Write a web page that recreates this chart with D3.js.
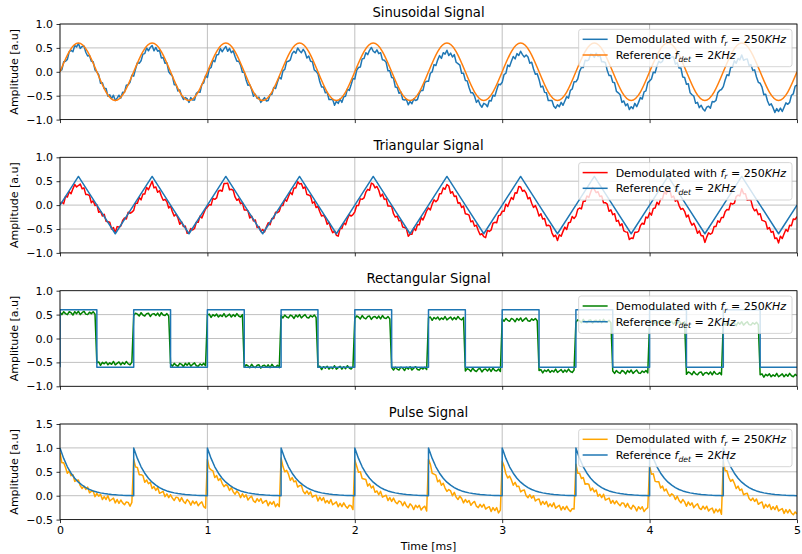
<!DOCTYPE html>
<html>
<head>
<meta charset="utf-8">
<script src="https://cdn.jsdelivr.net/npm/d3@7"></script>
<style>
  body { margin: 0; background: #fff; }
  svg { display: block; }
  text { font-family: "DejaVu Sans", sans-serif; fill: #000; }
</style>
</head>
<body>
<svg id="chart" width="802" height="554"></svg>
<script>
// ---- sampling ----
const STEP = 0.0125;           // ms between demodulated samples (40 per 0.5 ms period)
const timeTicks = [0, 1, 2, 3, 4, 5];
const ampTicks = [-1.0, -0.5, 0.0, 0.5, 1.0];
const pulseAmpTicks = [-0.5, 0.0, 0.5, 1.0, 1.5];
const titles = ["Sinusoidal Signal", "Triangular Signal", "Rectangular Signal", "Pulse Signal"];

// ---- sinusoidal (one row per 0.5 ms period) ----
const sineDemod = [
  0.02, 0.04, 0.21, 0.22, 0.26, 0.42, 0.45, 0.42, 0.55, 0.52, 0.59, 0.49, 0.53, 0.54, 0.41, 0.33, 0.34, 0.22, 0.21, 0.04, 0.00, -0.06, -0.24, -0.23, -0.35, -0.35, -0.51, -0.48, -0.56, -0.49, -0.60, -0.55, -0.49, -0.55, -0.43, -0.43, -0.28, -0.27, -0.22, -0.07,
  -0.09, 0.06, 0.19, 0.18, 0.23, 0.37, 0.38, 0.50, 0.44, 0.51, 0.55, 0.44, 0.51, 0.43, 0.45, 0.29, 0.30, 0.18, 0.19, 0.00, -0.05, -0.09, -0.27, -0.27, -0.40, -0.38, -0.50, -0.58, -0.54, -0.56, -0.64, -0.54, -0.59, -0.59, -0.45, -0.42, -0.43, -0.26, -0.23, -0.08,
  -0.12, 0.06, 0.09, 0.24, 0.21, 0.35, 0.36, 0.49, 0.42, 0.48, 0.53, 0.43, 0.49, 0.40, 0.44, 0.32, 0.22, 0.22, 0.14, -0.01, -0.01, -0.17, -0.28, -0.27, -0.37, -0.51, -0.47, -0.56, -0.53, -0.64, -0.59, -0.54, -0.61, -0.60, -0.48, -0.47, -0.33, -0.35, -0.22, -0.11,
  -0.15, 0.02, 0.05, 0.21, 0.22, 0.25, 0.38, 0.43, 0.39, 0.50, 0.44, 0.40, 0.47, 0.41, 0.29, 0.33, 0.22, 0.21, 0.04, 0.01, -0.04, -0.21, -0.32, -0.32, -0.44, -0.43, -0.58, -0.58, -0.58, -0.70, -0.62, -0.66, -0.57, -0.64, -0.52, -0.51, -0.36, -0.39, -0.27, -0.14,
  -0.15, 0.03, 0.09, 0.10, 0.27, 0.28, 0.40, 0.36, 0.45, 0.51, 0.43, 0.40, 0.46, 0.38, 0.40, 0.25, 0.24, 0.20, 0.02, 0.02, -0.12, -0.13, -0.32, -0.33, -0.45, -0.42, -0.58, -0.59, -0.58, -0.69, -0.62, -0.67, -0.57, -0.60, -0.58, -0.45, -0.39, -0.39, -0.22, -0.20,
  -0.20, -0.03, 0.00, 0.15, 0.13, 0.25, 0.34, 0.28, 0.40, 0.37, 0.45, 0.34, 0.39, 0.31, 0.36, 0.20, 0.17, 0.14, -0.03, -0.03, -0.18, -0.19, -0.33, -0.44, -0.44, -0.51, -0.64, -0.59, -0.69, -0.74, -0.66, -0.68, -0.73, -0.60, -0.61, -0.49, -0.51, -0.38, -0.26, -0.27,
  -0.22, -0.06, -0.03, 0.14, 0.11, 0.22, 0.32, 0.27, 0.38, 0.34, 0.43, 0.36, 0.31, 0.35, 0.31, 0.18, 0.20, 0.06, -0.05, -0.04, -0.16, -0.32, -0.30, -0.43, -0.44, -0.60, -0.60, -0.60, -0.72, -0.76, -0.69, -0.73, -0.64, -0.70, -0.61, -0.52, -0.55, -0.39, -0.36, -0.21,
  -0.21, -0.15, 0.01, 0.09, 0.09, 0.24, 0.23, 0.25, 0.37, 0.36, 0.30, 0.39, 0.32, 0.35, 0.21, 0.21, 0.19, 0.03, -0.08, -0.08, -0.22, -0.23, -0.41, -0.44, -0.48, -0.64, -0.61, -0.71, -0.67, -0.79, -0.73, -0.77, -0.66, -0.73, -0.64, -0.54, -0.57, -0.42, -0.40, -0.23,
  -0.19, -0.15, -0.01, -0.02, 0.12, 0.22, 0.19, 0.22, 0.33, 0.30, 0.38, 0.28, 0.31, 0.31, 0.16, 0.19, 0.08, 0.08, -0.11, -0.12, -0.26, -0.25, -0.44, -0.48, -0.51, -0.66, -0.64, -0.75, -0.70, -0.78, -0.82, -0.74, -0.72, -0.76, -0.62, -0.63, -0.60, -0.44, -0.39, -0.37,
  -0.31, -0.17, -0.06, -0.08, 0.09, 0.10, 0.23, 0.18, 0.28, 0.25, 0.35, 0.24, 0.26, 0.27, 0.13, 0.15, 0.03, 0.04, -0.11, -0.22, -0.24, -0.32, -0.48, -0.47, -0.61, -0.70, -0.67, -0.75, -0.85, -0.77, -0.83, -0.76, -0.83, -0.74, -0.65, -0.68, -0.64, -0.49, -0.46, -0.30,
  -0.28
];
const SINE_REF_STEP = 0.0625;
const sineRef = [
  0, 0.424, 0.6, 0.424, 0, -0.424, -0.6, -0.424,
  0, 0.424, 0.6, 0.424, 0, -0.424, -0.6, -0.424,
  0, 0.424, 0.6, 0.424, 0, -0.424, -0.6, -0.424,
  0, 0.424, 0.6, 0.424, 0, -0.424, -0.6, -0.424,
  0, 0.424, 0.6, 0.424, 0, -0.424, -0.6, -0.424,
  0, 0.424, 0.6, 0.424, 0, -0.424, -0.6, -0.424,
  0, 0.424, 0.6, 0.424, 0, -0.424, -0.6, -0.424,
  0, 0.424, 0.6, 0.424, 0, -0.424, -0.6, -0.424,
  0, 0.424, 0.6, 0.424, 0, -0.424, -0.6, -0.424,
  0, 0.424, 0.6, 0.424, 0, -0.424, -0.6, -0.424,
  0
];

// ---- triangular ----
const triDemod = [
  0.03, 0.06, 0.03, 0.18, 0.17, 0.28, 0.24, 0.34, 0.43, 0.38, 0.41, 0.44, 0.34, 0.36, 0.22, 0.22, 0.20, 0.05, 0.09, -0.01, 0.01, -0.15, -0.13, -0.23, -0.19, -0.34, -0.35, -0.36, -0.50, -0.47, -0.58, -0.45, -0.46, -0.44, -0.32, -0.27, -0.29, -0.15, -0.17, -0.15,
  -0.11, 0.04, 0.04, 0.16, 0.11, 0.23, 0.23, 0.37, 0.32, 0.41, 0.50, 0.36, 0.38, 0.27, 0.30, 0.19, 0.10, 0.12, 0.07, -0.06, -0.02, -0.14, -0.23, -0.19, -0.27, -0.40, -0.35, -0.45, -0.44, -0.59, -0.58, -0.49, -0.52, -0.49, -0.36, -0.36, -0.23, -0.27, -0.17, -0.08,
  -0.04, 0.01, 0.00, 0.14, 0.12, 0.15, 0.29, 0.31, 0.29, 0.45, 0.45, 0.46, 0.32, 0.33, 0.31, 0.17, 0.10, 0.13, 0.03, 0.05, -0.10, -0.10, -0.12, -0.27, -0.23, -0.33, -0.31, -0.47, -0.45, -0.55, -0.51, -0.56, -0.46, -0.37, -0.41, -0.28, -0.28, -0.15, -0.16, -0.13,
  -0.01, -0.01, 0.12, 0.08, 0.18, 0.27, 0.22, 0.36, 0.36, 0.49, 0.44, 0.45, 0.35, 0.38, 0.22, 0.21, 0.19, 0.04, 0.07, -0.05, -0.03, -0.14, -0.23, -0.21, -0.27, -0.40, -0.36, -0.49, -0.58, -0.54, -0.63, -0.65, -0.49, -0.49, -0.37, -0.41, -0.29, -0.20, -0.23, -0.20,
  -0.14, -0.01, -0.01, 0.13, 0.12, 0.15, 0.27, 0.33, 0.31, 0.46, 0.44, 0.36, 0.39, 0.31, 0.18, 0.23, 0.12, 0.13, -0.02, -0.02, -0.03, -0.18, -0.25, -0.23, -0.33, -0.32, -0.46, -0.47, -0.49, -0.65, -0.61, -0.61, -0.48, -0.53, -0.41, -0.41, -0.26, -0.31, -0.22, -0.12,
  -0.06, -0.10, 0.02, 0.11, 0.07, 0.11, 0.24, 0.24, 0.36, 0.33, 0.43, 0.40, 0.25, 0.28, 0.18, 0.19, 0.04, 0.05, -0.05, -0.02, -0.18, -0.19, -0.21, -0.35, -0.33, -0.44, -0.42, -0.53, -0.62, -0.60, -0.66, -0.68, -0.53, -0.55, -0.52, -0.38, -0.36, -0.37, -0.22, -0.21,
  -0.13, -0.13, 0.02, -0.03, 0.07, 0.16, 0.12, 0.26, 0.25, 0.39, 0.38, 0.29, 0.31, 0.25, 0.13, 0.16, 0.04, -0.05, -0.01, -0.10, -0.23, -0.18, -0.29, -0.28, -0.43, -0.42, -0.44, -0.58, -0.66, -0.63, -0.74, -0.62, -0.65, -0.55, -0.46, -0.51, -0.37, -0.36, -0.24, -0.28,
  -0.23, -0.09, -0.06, -0.08, 0.08, 0.08, 0.19, 0.16, 0.27, 0.37, 0.33, 0.26, 0.28, 0.18, 0.19, 0.05, 0.05, 0.02, -0.13, -0.10, -0.20, -0.18, -0.34, -0.32, -0.43, -0.39, -0.54, -0.56, -0.57, -0.72, -0.69, -0.70, -0.57, -0.57, -0.55, -0.43, -0.38, -0.40, -0.25, -0.27,
  -0.16, -0.21, -0.07, -0.06, 0.06, 0.01, 0.13, 0.13, 0.28, 0.23, 0.32, 0.31, 0.16, 0.19, 0.08, 0.11, -0.01, -0.09, -0.07, -0.13, -0.25, -0.21, -0.34, -0.42, -0.38, -0.47, -0.59, -0.54, -0.64, -0.64, -0.78, -0.67, -0.58, -0.61, -0.58, -0.45, -0.45, -0.33, -0.36, -0.26,
  -0.26, -0.14, -0.09, -0.10, 0.04, 0.02, 0.04, 0.18, 0.21, 0.19, 0.34, 0.24, 0.24, 0.10, 0.11, 0.10, -0.05, -0.12, -0.09, -0.20, -0.18, -0.32, -0.33, -0.35, -0.50, -0.47, -0.57, -0.55, -0.70, -0.69, -0.79, -0.65, -0.70, -0.60, -0.51, -0.55, -0.42, -0.43, -0.29, -0.30,
  -0.24
];
const TRI_REF_STEP = 0.125;
const triRef = [
  0, 0.6, 0, -0.6, 0, 0.6, 0, -0.6, 0, 0.6, 0, -0.6, 0, 0.6, 0, -0.6, 0, 0.6, 0, -0.6,
  0, 0.6, 0, -0.6, 0, 0.6, 0, -0.6, 0, 0.6, 0, -0.6, 0, 0.6, 0, -0.6, 0, 0.6, 0, -0.6,
  0
];

// ---- rectangular (one row per 0.25 ms half period) ----
const rectDemod = [
  0.55, 0.50, 0.56, 0.52, 0.50, 0.56, 0.54, 0.49, 0.56, 0.52, 0.57, 0.50, 0.54, 0.57, 0.51, 0.50, 0.55, 0.52, 0.56, 0.51,
  -0.51, -0.49, -0.56, -0.50, -0.53, -0.49, -0.55, -0.51, -0.54, -0.48, -0.55, -0.52, -0.49, -0.55, -0.50, -0.54, -0.48, -0.53, -0.55, -0.50,
  0.48, 0.53, 0.51, 0.47, 0.54, 0.49, 0.47, 0.52, 0.53, 0.46, 0.51, 0.52, 0.48, 0.53, 0.47, 0.54, 0.49, 0.48, 0.52, 0.47,
  -0.53, -0.58, -0.52, -0.56, -0.58, -0.52, -0.54, -0.59, -0.52, -0.56, -0.51, -0.58, -0.54, -0.51, -0.57, -0.58, -0.53, -0.56, -0.52, -0.57,
  0.49, 0.51, 0.44, 0.50, 0.47, 0.51, 0.45, 0.49, 0.46, 0.52, 0.45, 0.48, 0.51, 0.45, 0.50, 0.46, 0.52, 0.47, 0.45, 0.50,
  -0.60, -0.55, -0.57, -0.61, -0.54, -0.59, -0.61, -0.56, -0.55, -0.62, -0.57, -0.56, -0.60, -0.55, -0.61, -0.54, -0.59, -0.60, -0.56, -0.61,
  0.48, 0.43, 0.49, 0.45, 0.43, 0.49, 0.47, 0.42, 0.49, 0.45, 0.50, 0.43, 0.47, 0.50, 0.44, 0.43, 0.48, 0.45, 0.49, 0.44,
  -0.60, -0.58, -0.65, -0.59, -0.62, -0.58, -0.64, -0.60, -0.63, -0.57, -0.64, -0.61, -0.58, -0.64, -0.59, -0.63, -0.57, -0.62, -0.64, -0.59,
  0.42, 0.47, 0.45, 0.41, 0.48, 0.43, 0.41, 0.46, 0.47, 0.40, 0.45, 0.46, 0.42, 0.47, 0.41, 0.48, 0.43, 0.42, 0.46, 0.41,
  -0.61, -0.66, -0.60, -0.64, -0.66, -0.60, -0.62, -0.67, -0.60, -0.64, -0.59, -0.66, -0.62, -0.59, -0.65, -0.66, -0.61, -0.64, -0.60, -0.65,
  0.43, 0.45, 0.38, 0.44, 0.41, 0.45, 0.39, 0.43, 0.40, 0.46, 0.39, 0.42, 0.45, 0.39, 0.44, 0.40, 0.46, 0.41, 0.39, 0.44,
  -0.68, -0.63, -0.65, -0.69, -0.62, -0.67, -0.69, -0.64, -0.63, -0.70, -0.65, -0.64, -0.68, -0.63, -0.69, -0.62, -0.67, -0.68, -0.64, -0.69,
  0.41, 0.36, 0.42, 0.38, 0.36, 0.42, 0.40, 0.35, 0.42, 0.38, 0.43, 0.36, 0.40, 0.43, 0.37, 0.36, 0.41, 0.38, 0.42, 0.37,
  -0.67, -0.65, -0.72, -0.66, -0.69, -0.65, -0.71, -0.67, -0.70, -0.64, -0.71, -0.68, -0.65, -0.71, -0.66, -0.70, -0.64, -0.69, -0.71, -0.66,
  0.34, 0.39, 0.37, 0.33, 0.40, 0.35, 0.33, 0.38, 0.39, 0.32, 0.37, 0.38, 0.34, 0.39, 0.33, 0.40, 0.35, 0.34, 0.38, 0.33,
  -0.68, -0.73, -0.67, -0.71, -0.73, -0.67, -0.69, -0.74, -0.67, -0.71, -0.66, -0.73, -0.69, -0.66, -0.72, -0.73, -0.68, -0.71, -0.67, -0.72,
  0.34, 0.36, 0.29, 0.35, 0.32, 0.36, 0.30, 0.34, 0.31, 0.37, 0.30, 0.33, 0.36, 0.30, 0.35, 0.31, 0.37, 0.32, 0.30, 0.35,
  -0.75, -0.70, -0.72, -0.76, -0.69, -0.74, -0.76, -0.71, -0.70, -0.77, -0.72, -0.71, -0.75, -0.70, -0.76, -0.69, -0.74, -0.75, -0.71, -0.76,
  0.33, 0.28, 0.34, 0.30, 0.28, 0.34, 0.32, 0.27, 0.34, 0.30, 0.35, 0.28, 0.32, 0.35, 0.29, 0.28, 0.33, 0.30, 0.34, 0.29,
  -0.76, -0.74, -0.81, -0.75, -0.78, -0.74, -0.80, -0.76, -0.79, -0.73, -0.80, -0.77, -0.74, -0.80, -0.75, -0.79, -0.73, -0.78, -0.80, -0.75,
  -0.78
];
const RECT_REF_STEP = 0.25;
const rectRefStart = -0.6;
const rectRef = [
  0.6, -0.6, 0.6, -0.6, 0.6, -0.6, 0.6, -0.6, 0.6, -0.6,
  0.6, -0.6, 0.6, -0.6, 0.6, -0.6, 0.6, -0.6, 0.6, -0.6
];

// ---- pulse (one row per 0.5 ms period) ----
const pulseDemod = [
  0.90, 0.69, 0.69, 0.59, 0.47, 0.52, 0.42, 0.44, 0.30, 0.32, 0.33, 0.21, 0.15, 0.20, 0.13, 0.18, 0.06, 0.09, 0.10, -0.02, 0.05, -0.01, 0.03, -0.08, -0.02, -0.08, 0.00, -0.11, -0.08, -0.05, -0.15, -0.08, -0.16, -0.09, -0.15, -0.19, -0.13, -0.14, -0.22, -0.14,
  0.76, 0.60, 0.59, 0.44, 0.44, 0.42, 0.28, 0.33, 0.25, 0.28, 0.15, 0.19, 0.11, 0.17, 0.05, 0.07, 0.09, -0.02, 0.04, -0.04, 0.02, -0.05, -0.10, -0.03, -0.04, -0.12, -0.04, -0.12, -0.16, -0.08, -0.12, -0.20, -0.11, -0.17, -0.12, -0.21, -0.16, -0.13, -0.23, -0.26,
  0.76, 0.58, 0.54, 0.52, 0.38, 0.42, 0.32, 0.36, 0.26, 0.19, 0.23, 0.20, 0.11, 0.17, 0.08, 0.03, 0.10, 0.05, -0.04, 0.04, -0.03, 0.02, -0.09, -0.04, -0.01, -0.11, -0.14, -0.06, -0.12, -0.06, -0.16, -0.12, -0.10, -0.21, -0.13, -0.18, -0.12, -0.23, -0.17, -0.23,
  0.79, 0.61, 0.50, 0.53, 0.45, 0.32, 0.38, 0.29, 0.31, 0.18, 0.21, 0.22, 0.09, 0.04, 0.10, 0.03, 0.08, -0.03, 0.00, 0.01, -0.11, -0.03, -0.10, -0.04, -0.15, -0.10, -0.16, -0.08, -0.19, -0.16, -0.13, -0.23, -0.16, -0.23, -0.15, -0.22, -0.26, -0.20, -0.21, -0.29,
  0.75, 0.62, 0.49, 0.50, 0.36, 0.35, 0.34, 0.20, 0.25, 0.16, 0.20, 0.07, 0.10, 0.02, 0.09, -0.03, -0.01, 0.01, -0.10, -0.04, -0.12, -0.05, -0.13, -0.17, -0.11, -0.13, -0.21, -0.13, -0.21, -0.25, -0.17, -0.21, -0.29, -0.20, -0.25, -0.20, -0.30, -0.25, -0.22, -0.32,
  0.76, 0.66, 0.47, 0.45, 0.43, 0.29, 0.33, 0.22, 0.26, 0.16, 0.09, 0.13, 0.10, 0.00, 0.07, -0.03, -0.08, -0.01, -0.06, -0.15, -0.08, -0.14, -0.10, -0.20, -0.15, -0.12, -0.22, -0.25, -0.18, -0.24, -0.18, -0.28, -0.25, -0.23, -0.33, -0.25, -0.31, -0.25, -0.36, -0.30,
  0.72, 0.62, 0.46, 0.37, 0.41, 0.33, 0.22, 0.28, 0.19, 0.20, 0.08, 0.11, 0.12, 0.00, -0.04, 0.02, -0.05, 0.00, -0.11, -0.08, -0.07, -0.19, -0.12, -0.18, -0.12, -0.23, -0.17, -0.23, -0.15, -0.26, -0.23, -0.20, -0.30, -0.23, -0.29, -0.22, -0.29, -0.33, -0.27, -0.28,
  0.66, 0.47, 0.47, 0.36, 0.38, 0.24, 0.25, 0.24, 0.11, 0.16, 0.08, 0.12, -0.01, 0.03, -0.04, 0.03, -0.09, -0.07, -0.05, -0.16, -0.10, -0.17, -0.11, -0.17, -0.21, -0.15, -0.16, -0.24, -0.16, -0.24, -0.28, -0.20, -0.24, -0.32, -0.23, -0.28, -0.23, -0.33, -0.28, -0.25,
  0.62, 0.45, 0.46, 0.30, 0.29, 0.29, 0.16, 0.20, 0.10, 0.14, 0.05, -0.01, 0.04, 0.01, -0.08, -0.01, -0.10, -0.15, -0.08, -0.13, -0.22, -0.13, -0.20, -0.15, -0.25, -0.20, -0.17, -0.26, -0.29, -0.22, -0.28, -0.22, -0.32, -0.28, -0.26, -0.36, -0.28, -0.34, -0.28, -0.39,
  0.72, 0.52, 0.52, 0.38, 0.30, 0.34, 0.26, 0.15, 0.20, 0.11, 0.14, 0.02, 0.04, 0.05, -0.06, -0.10, -0.05, -0.12, -0.07, -0.18, -0.15, -0.13, -0.26, -0.18, -0.24, -0.18, -0.29, -0.23, -0.29, -0.21, -0.32, -0.29, -0.27, -0.37, -0.29, -0.36, -0.29, -0.36, -0.40, -0.34,
  -0.38
];
const pulseTimes = [0, 0.5, 1.0, 1.5, 2.0, 2.5, 3.0, 3.5, 4.0, 4.5];
const PULSE_REF_STEP = 0.025;
// one decay period of the reference pulse, from the edge to the next edge
const pulseRefShape = [
  1.0, 0.78, 0.605, 0.47, 0.365, 0.283, 0.22, 0.17, 0.13, 0.10, 0.077,
  0.059, 0.045, 0.034, 0.025, 0.018, 0.012, 0.007, 0.004, 0.002, 0.0
];

const demodLabel = [{t: "Demodulated with "}, {t: "f", it: true}, {t: "r", it: true, sub: true}, {t: " = 250"}, {t: "KHz", it: true}];
const refLabel = [{t: "Reference "}, {t: "f", it: true}, {t: "det", it: true, sub: true}, {t: " = 2"}, {t: "KHz", it: true}];

// ---- build point lists ----
const uniform = (vals, step) => vals.map((v, i) => [i * step, v]);

const rectRefPts = [[0, rectRefStart]]
  .concat(rectRef.map((v, i) => [i * RECT_REF_STEP, v]))
  .concat([[rectRef.length * RECT_REF_STEP, rectRef[rectRef.length - 1]]]);

const pulseRefPts = [];
pulseTimes.forEach(p => pulseRefShape.forEach((v, i) => pulseRefPts.push([p + i * PULSE_REF_STEP, v])));

const panels = [
  { title: titles[0], ticks: ampTicks,
    demod: { pts: uniform(sineDemod, STEP), color: "#1f77b4", curve: d3.curveLinear },
    ref:   { pts: uniform(sineRef, SINE_REF_STEP), color: "#ff7f0e", curve: d3.curveNatural } },
  { title: titles[1], ticks: ampTicks,
    demod: { pts: uniform(triDemod, STEP), color: "#ff0000", curve: d3.curveLinear },
    ref:   { pts: uniform(triRef, TRI_REF_STEP), color: "#1f77b4", curve: d3.curveLinear } },
  { title: titles[2], ticks: ampTicks,
    demod: { pts: uniform(rectDemod, STEP), color: "#008000", curve: d3.curveLinear },
    ref:   { pts: rectRefPts, color: "#1f77b4", curve: d3.curveStepAfter } },
  { title: titles[3], ticks: pulseAmpTicks,
    demod: { pts: uniform(pulseDemod, STEP), color: "#ffa500", curve: d3.curveLinear },
    ref:   { pts: pulseRefPts, color: "#1f77b4", curve: d3.curveLinear } }
];

// ---- layout ----
const svg = d3.select("#chart");
const left = 60, right = 797;
const panelTops = [24, 157.3, 290.7, 424];
const panelH = 95.6;
const FS = 11;
const minus = s => s.replace("-", "\u2212");

const x = d3.scaleLinear().domain([0, 5]).range([left, right]);

panels.forEach((p, idx) => {
  const top = panelTops[idx], bottom = top + panelH;
  const y = d3.scaleLinear().domain([p.ticks[0], p.ticks[p.ticks.length - 1]]).range([bottom, top]);
  const g = svg.append("g");

  // clip to the axes rectangle
  const clipId = "clip" + idx;
  svg.append("defs").append("clipPath").attr("id", clipId)
    .append("rect").attr("x", left).attr("y", top).attr("width", right - left).attr("height", panelH);

  // grid
  g.append("g").selectAll("line").data(timeTicks).join("line")
    .attr("x1", d => x(d)).attr("x2", d => x(d)).attr("y1", top).attr("y2", bottom)
    .attr("stroke", "#b0b0b0").attr("stroke-width", 0.8);
  g.append("g").selectAll("line").data(p.ticks).join("line")
    .attr("x1", left).attr("x2", right).attr("y1", d => y(d)).attr("y2", d => y(d))
    .attr("stroke", "#b0b0b0").attr("stroke-width", 0.8);

  // traces: demodulated first, reference on top
  const lines = g.append("g").attr("clip-path", `url(#${clipId})`);
  [p.demod, p.ref].forEach(s => {
    lines.append("path")
      .attr("d", d3.line().x(d => x(d[0])).y(d => y(d[1])).curve(s.curve)(s.pts))
      .attr("fill", "none").attr("stroke", s.color).attr("stroke-width", 1.5)
      .attr("stroke-linejoin", "round").attr("stroke-linecap", "butt");
  });

  // axes
  const yAxis = d3.axisLeft(y).tickValues(p.ticks).tickSize(3.5).tickPadding(3.5)
    .tickFormat(d => minus(d3.format(".1f")(d)));
  const ya = g.append("g").attr("transform", `translate(${left},0)`).call(yAxis);
  const xAxis = d3.axisBottom(x).tickValues(timeTicks).tickSize(3.5).tickPadding(3.5)
    .tickFormat(idx === panels.length - 1 ? d3.format("d") : () => "");
  const xa = g.append("g").attr("transform", `translate(0,${bottom})`).call(xAxis);
  [ya, xa].forEach(a => {
    a.select(".domain").remove();
    a.selectAll(".tick line").attr("stroke", "#000").attr("stroke-width", 0.8);
    a.selectAll(".tick text").attr("font-size", FS).attr("font-family", "DejaVu Sans").attr("fill", "#000");
  });

  // frame
  g.append("rect").attr("x", left).attr("y", top).attr("width", right - left).attr("height", panelH)
    .attr("fill", "none").attr("stroke", "#000").attr("stroke-width", 0.8);

  // title and y label
  g.append("text").attr("x", (left + right) / 2).attr("y", top - 7.5)
    .attr("text-anchor", "middle").attr("font-size", 13.2).text(p.title);
  g.append("text").attr("transform", `translate(18,${top + panelH / 2}) rotate(-90)`)
    .attr("text-anchor", "middle").attr("font-size", FS).text("Amplitude [a.u]");

  // legend
  const lg = g.append("g");
  const box = lg.append("rect").attr("fill", "#fff").attr("fill-opacity", 0.8)
    .attr("stroke", "#cccccc").attr("stroke-width", 0.8).attr("rx", 2.5);
  const rows = [[p.demod, demodLabel], [p.ref, refLabel]];
  const rowY = [top + 15.3, top + 31];
  let maxW = 0;
  const texts = rows.map(([s, label], r) => {
    const t = lg.append("text").attr("y", rowY[r] + 4).attr("font-size", FS);
    label.forEach((part, k) => {
      const ts = t.append("tspan").text(part.t);
      if (part.it) ts.attr("font-style", "italic");
      if (part.sub) ts.attr("font-size", FS * 0.7).attr("dy", 2.7);
      else if (k > 0 && label[k - 1].sub) ts.attr("dy", -2.7);
    });
    maxW = Math.max(maxW, t.node().getComputedTextLength());
    return t;
  });
  const boxW = 37 + maxW + 6;
  const bx = right - 5 - boxW;
  box.attr("x", bx).attr("y", top + 5.3).attr("width", boxW).attr("height", 37.4);
  rows.forEach(([s], r) => {
    lg.append("line").attr("x1", bx + 4).attr("x2", bx + 29).attr("y1", rowY[r]).attr("y2", rowY[r])
      .attr("stroke", s.color).attr("stroke-width", 1.5);
    texts[r].attr("x", bx + 37);
  });
});

svg.append("text").attr("x", (left + right) / 2).attr("y", 550)
  .attr("text-anchor", "middle").attr("font-size", FS).text("Time [ms]");
</script>
</body>
</html>
